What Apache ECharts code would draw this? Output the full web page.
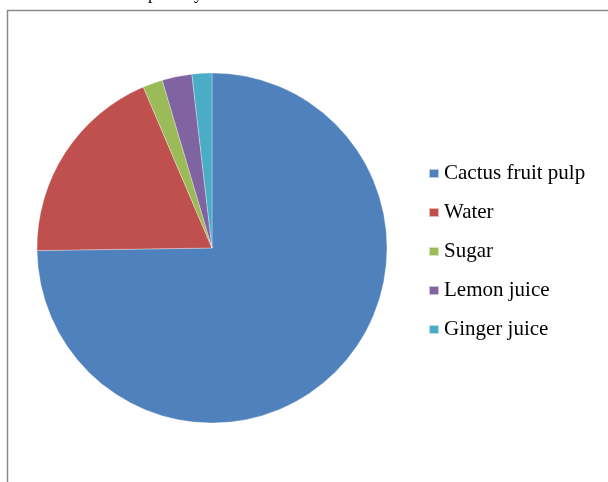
<!DOCTYPE html>
<html>
<head>
<meta charset="utf-8">
<script src="https://cdn.jsdelivr.net/npm/echarts@6/dist/echarts.min.js"></script>
<style>html,body{margin:0;padding:0;background:#fff;}#c{width:608px;height:482px;}</style>
</head>
<body>
<div id="c"></div>
<script>
const categories = ["Cactus fruit pulp", "Water", "Sugar", "Lemon juice", "Ginger juice"];
const values = [81.5, 20.5, 2, 3, 2];
const colors = ["#4F81BD", "#C0504D", "#9BBB59", "#8064A2", "#4BACC6"];

const chart = echarts.init(document.getElementById('c'), null, {renderer: 'canvas'});
chart.setOption({
  animation: false,
  backgroundColor: '#ffffff',
  color: colors,
  graphic: [
    {type: 'rect', shape: {x: 7.5, y: 10.5, width: 700, height: 600}, style: {fill: 'none', stroke: '#8a8a8a', lineWidth: 1.5}, silent: true},
    {type: 'text', left: 148, top: -15, style: {text: 'p', font: '18px "Liberation Serif", serif', fill: '#000'}},
    {type: 'text', left: 194, top: -15, style: {text: 'y', font: '18px "Liberation Serif", serif', fill: '#000'}}
  ],
  legend: {
    orient: 'vertical',
    left: 423,
    top: 158,
    itemWidth: 10,
    itemHeight: 9,
    itemGap: 18,
    icon: 'rect',
    textStyle: {fontFamily: '"Liberation Serif", "Times New Roman", serif', fontSize: 21, lineHeight: 21, color: '#000'},
    data: categories
  },
  series: [{
    type: 'pie',
    center: [212, 248],
    radius: [0, 175],
    startAngle: 90,
    clockwise: true,
    label: {show: false},
    labelLine: {show: false},
    itemStyle: {borderColor: 'rgba(255,255,255,0.6)', borderWidth: 0.5},
    emphasis: {disabled: true},
    data: categories.map((n, i) => ({name: n, value: values[i]}))
  }]
});
</script>
</body>
</html>
